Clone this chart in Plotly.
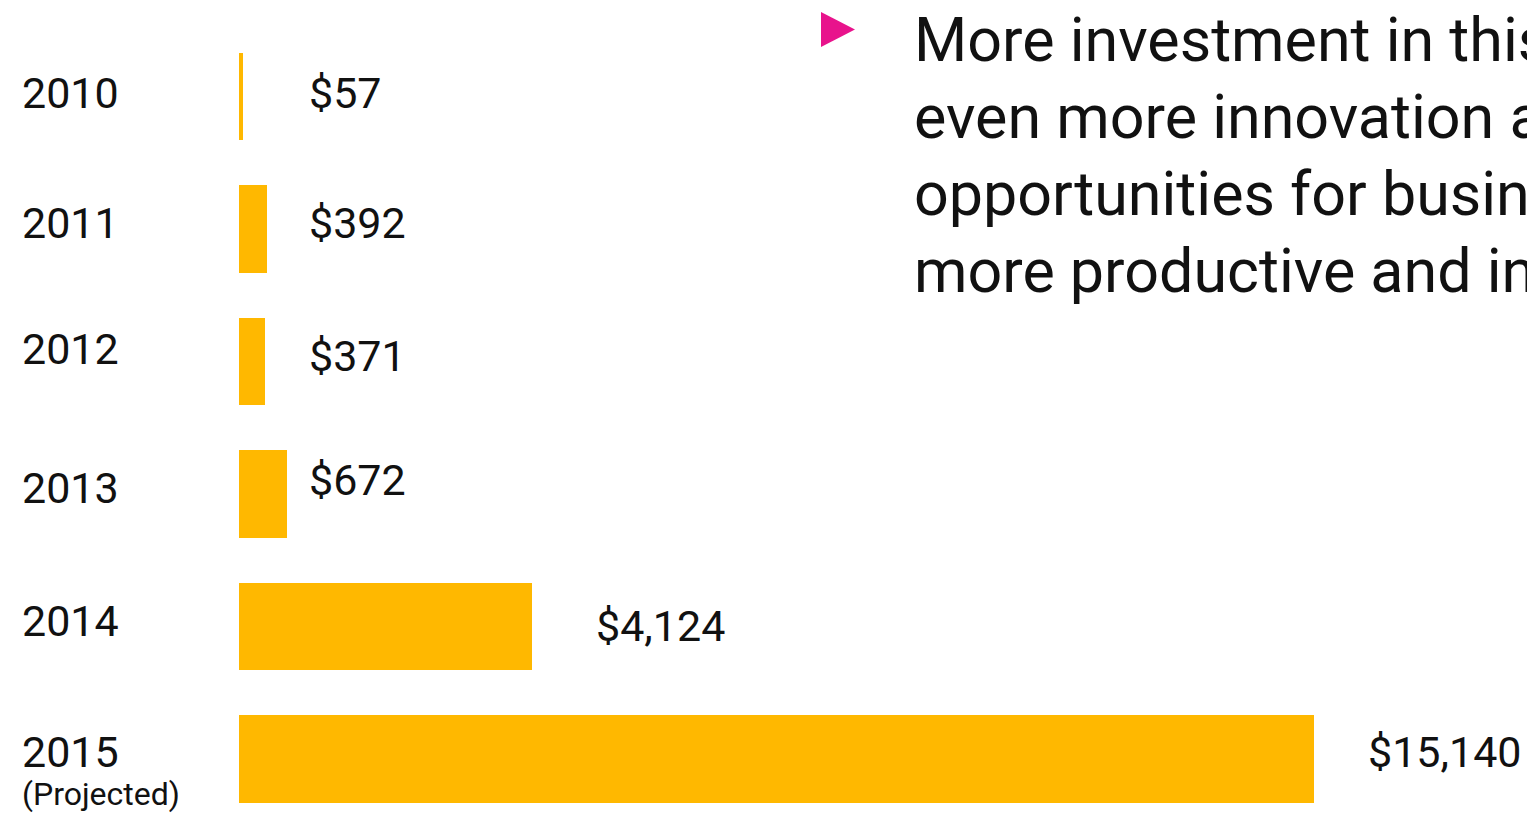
import plotly.graph_objects as go

# Annual investment (USD millions)
years = ["2010", "2011", "2012", "2013", "2014", "2015"]
year_labels = ["2010", "2011", "2012", "2013", "2014", "2015"]
values = [57, 392, 371, 672, 4124, 15140]
value_labels = ["$57", "$392", "$371", "$672", "$4,124", "$15,140"]
sub_label = "(Projected)"
callout_lines = [
    "More investment in this space drives",
    "even more innovation and creates new",
    "opportunities for businesses to become",
    "more productive and innovative.",
]

BAR = "#FFB800"
INK = "#111111"
PINK = "#E8138C"
W, H = 1527, 814
FONT = "Roboto"

# label placement tweaks (pixels)
year_yshift = [4, 6, 13, 6, 6, 7]
value_yshift = [4, 6, 6, 14, 1, 7]
value_xshift = [-3, -3, -3, -3, 62, 52]
label_floor = 1000  # short bars share one label column

fig = go.Figure(
    go.Bar(
        x=values,
        y=years,
        orientation="h",
        width=0.664,
        marker=dict(color=BAR, line=dict(width=0)),
        hoverinfo="skip",
    )
)

annotations = []
# category axes place annotations by category index
for i, (lab, ys) in enumerate(zip(year_labels, year_yshift)):
    annotations.append(dict(
        x=20 / W, xref="paper", y=i, yref="y", yshift=ys,
        text=lab, showarrow=False, xanchor="left", yanchor="middle",
        font=dict(family=FONT, size=43, color=INK),
    ))
annotations.append(dict(
    x=20 / W, xref="paper", y=len(years) - 1, yref="y", yshift=-35,
    text=sub_label, showarrow=False, xanchor="left", yanchor="middle",
    font=dict(family=FONT, size=32, color=INK),
))
for i, (v, lab, xs, ys) in enumerate(zip(values, value_labels, value_xshift, value_yshift)):
    annotations.append(dict(
        x=max(v, label_floor), xref="x", y=i, yref="y", xshift=xs, yshift=ys,
        text=lab, showarrow=False, xanchor="left", yanchor="middle",
        font=dict(family=FONT, size=43, color=INK),
    ))
for i, line in enumerate(callout_lines):
    annotations.append(dict(
        x=912 / W, xref="paper", y=1 - (40 + 77 * i) / H, yref="paper",
        text=line, showarrow=False, xanchor="left", yanchor="middle",
        font=dict(family=FONT, size=61, color=INK),
    ))

fig.update_layout(
    width=W, height=H, autosize=False,
    margin=dict(l=0, r=0, t=0, b=0, pad=0),
    paper_bgcolor="white", plot_bgcolor="white",
    showlegend=False,
    bargap=0,
    xaxis=dict(domain=[239 / W, 1], range=[0, 18140], visible=False, fixedrange=True),
    yaxis=dict(type="category", categoryorder="array", categoryarray=years,
               range=[5.4151, -0.7283], visible=False, fixedrange=True),
    annotations=annotations,
    shapes=[dict(
        type="path", xref="paper", yref="paper",
        path=f"M {821/W} {1-12/H} L {821/W} {1-47/H} L {855/W} {1-29.5/H} Z",
        fillcolor=PINK, line=dict(width=0),
    )],
)

fig.write_html("out.html", config={"displayModeBar": False})
